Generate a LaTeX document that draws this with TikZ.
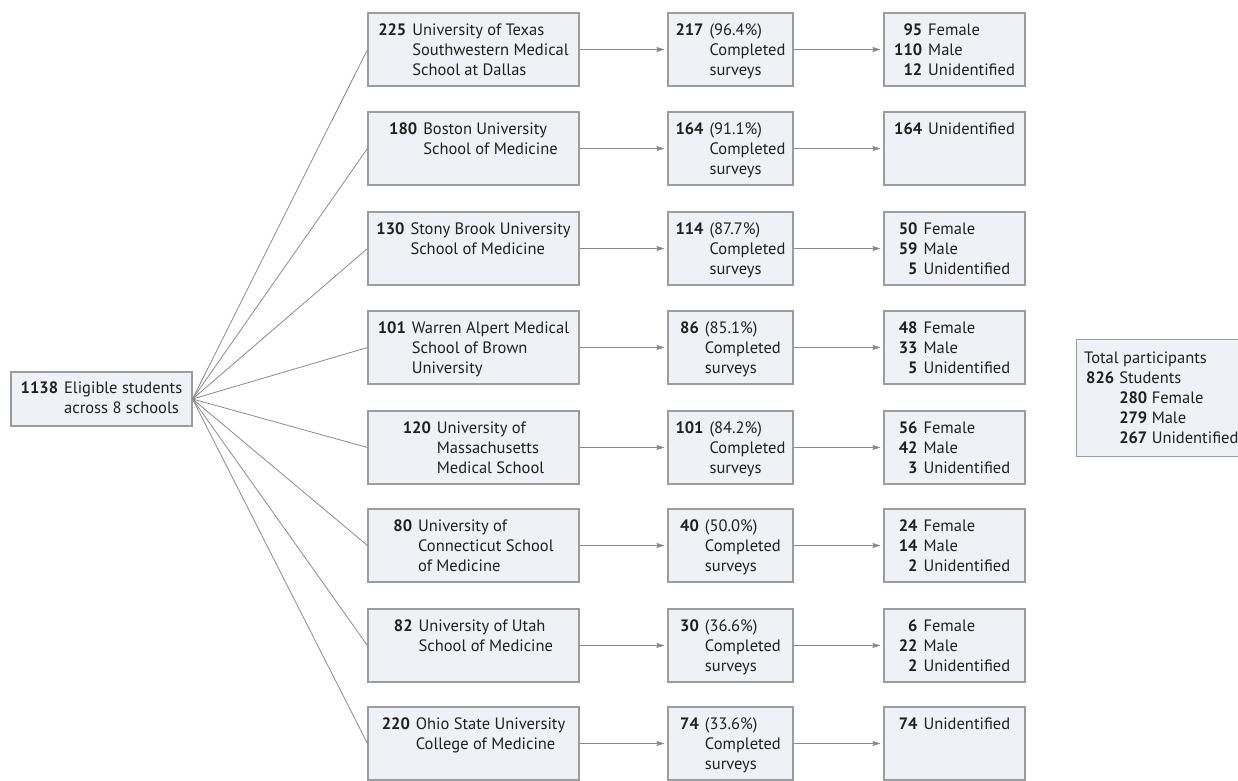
\documentclass[tikz,border=0pt]{standalone}
\usepackage{fontspec}
\setmainfont{PT Sans}
\usetikzlibrary{arrows.meta}
\definecolor{boxfill}{HTML}{EEF1F5}
\definecolor{boxline}{HTML}{9C9C9C}
\definecolor{connc}{HTML}{8A8A8A}
\definecolor{ink}{HTML}{231F20}
\begin{document}
\begin{tikzpicture}[x=1pt,y=-1pt,
 box/.style={draw=boxline, fill=boxfill, line width=1.1pt, inner sep=0pt, minimum height=73pt},
 school/.style={box, minimum width=211pt},
 comp/.style={box, minimum width=125pt},
 sex/.style={box, minimum width=141pt},
 txt/.style={inner sep=0pt, anchor=north, text=ink, font=\fontsize{16.5}{20}\selectfont},
 conn/.style={draw=connc, line width=0.8pt},
 arr/.style={conn, -{Stealth[length=8pt,width=5pt,inset=1pt]}, shorten >=3pt},
]
\useasboundingbox (0,0) rectangle (1238,780);

% left box
\node[box, minimum width=181pt, minimum height=54pt] (L) at (101.5,399) {};
\node[txt, anchor=center] (Lt) at (L.center) {\begin{tabular}{@{}r@{\hspace{6pt}}l@{}}\textbf{1138} & Eligible students\\ & across 8 schools\end{tabular}};

% total box
\node[box, minimum width=180pt, minimum height=117pt, anchor=north west] (T) at (1076,339) {};
\node[txt, anchor=north west] (Tt) at ([xshift=8pt,yshift=-10pt]T.north west) {\begin{tabular}{@{\hspace{2pt}}r@{\hspace{5pt}}l@{}}\multicolumn{2}{@{}l@{}}{Total participants}\\ \textbf{826} & Students\\ & \textbf{280} Female\\ & \textbf{279} Male\\ & \textbf{267} Unidentified\end{tabular}};

% rows
\foreach \i/\t in {1/13,2/112,3/212,4/311,5/411,6/509,7/609,8/707}{
  \node[school] (s\i) at (473.5,\t+36.5) {};
  \node[comp] (c\i) at (730.5,\t+36.5) {};
  \node[sex] (g\i) at (954.5,\t+36.5) {};
}

\newcommand{\tb}[1]{\begin{tabular}{@{}r@{\hspace{6pt}}l@{}}#1\end{tabular}}
% school texts
\node[txt] (s1t) at ([yshift=-9pt]s1.north) {\tb{\textbf{225} & University of Texas\\ & Southwestern Medical\\ & School at Dallas}};
\node[txt] (s2t) at ([yshift=-9pt]s2.north) {\tb{\textbf{180} & Boston University\\ & School of Medicine}};
\node[txt] (s3t) at ([yshift=-9pt]s3.north) {\tb{\textbf{130} & Stony Brook University\\ & School of Medicine}};
\node[txt] (s4t) at ([yshift=-9pt]s4.north) {\tb{\textbf{101} & Warren Alpert Medical\\ & School of Brown\\ & University}};
\node[txt] (s5t) at ([yshift=-9pt]s5.north) {\tb{\textbf{120} & University of\\ & Massachusetts\\ & Medical School}};
\node[txt] (s6t) at ([yshift=-9pt]s6.north) {\tb{\textbf{80} & University of\\ & Connecticut School\\ & of Medicine}};
\node[txt] (s7t) at ([yshift=-9pt]s7.north) {\tb{\textbf{82} & University of Utah\\ & School of Medicine}};
\node[txt] (s8t) at ([yshift=-9pt]s8.north) {\tb{\textbf{220} & Ohio State University\\ & College of Medicine}};

% completion texts
\node[txt] (c1t) at ([yshift=-9pt]c1.north) {\tb{\textbf{217} & (96.4\%)\\ & Completed\\ & surveys}};
\node[txt] (c2t) at ([yshift=-9pt]c2.north) {\tb{\textbf{164} & (91.1\%)\\ & Completed\\ & surveys}};
\node[txt] (c3t) at ([yshift=-9pt]c3.north) {\tb{\textbf{114} & (87.7\%)\\ & Completed\\ & surveys}};
\node[txt] (c4t) at ([yshift=-9pt]c4.north) {\tb{\textbf{86} & (85.1\%)\\ & Completed\\ & surveys}};
\node[txt] (c5t) at ([yshift=-9pt]c5.north) {\tb{\textbf{101} & (84.2\%)\\ & Completed\\ & surveys}};
\node[txt] (c6t) at ([yshift=-9pt]c6.north) {\tb{\textbf{40} & (50.0\%)\\ & Completed\\ & surveys}};
\node[txt] (c7t) at ([yshift=-9pt]c7.north) {\tb{\textbf{30} & (36.6\%)\\ & Completed\\ & surveys}};
\node[txt] (c8t) at ([yshift=-9pt]c8.north) {\tb{\textbf{74} & (33.6\%)\\ & Completed\\ & surveys}};

% gender texts
\node[txt] (g1t) at ([yshift=-9pt]g1.north) {\tb{\textbf{95} & Female\\ \textbf{110} & Male\\ \textbf{12} & Unidentified}};
\node[txt] (g2t) at ([yshift=-9pt]g2.north) {\tb{\textbf{164} & Unidentified}};
\node[txt] (g3t) at ([yshift=-9pt]g3.north) {\tb{\textbf{50} & Female\\ \textbf{59} & Male\\ \textbf{5} & Unidentified}};
\node[txt] (g4t) at ([yshift=-9pt]g4.north) {\tb{\textbf{48} & Female\\ \textbf{33} & Male\\ \textbf{5} & Unidentified}};
\node[txt] (g5t) at ([yshift=-9pt]g5.north) {\tb{\textbf{56} & Female\\ \textbf{42} & Male\\ \textbf{3} & Unidentified}};
\node[txt] (g6t) at ([yshift=-9pt]g6.north) {\tb{\textbf{24} & Female\\ \textbf{14} & Male\\ \textbf{2} & Unidentified}};
\node[txt] (g7t) at ([yshift=-9pt]g7.north) {\tb{\textbf{6} & Female\\ \textbf{22} & Male\\ \textbf{2} & Unidentified}};
\node[txt] (g8t) at ([yshift=-9pt]g8.north) {\tb{\textbf{74} & Unidentified}};

% connectors
\foreach \i in {1,...,8}{
  \draw[conn] (L.east) -- (s\i.west);
  \draw[arr] (s\i.east) -- (c\i.west);
  \draw[arr] (c\i.east) -- (g\i.west);
}
\end{tikzpicture}
\end{document}
